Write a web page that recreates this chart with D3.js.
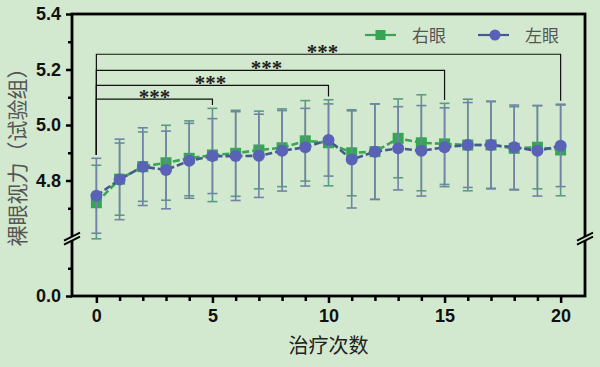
<!DOCTYPE html>
<html>
<head>
<meta charset="utf-8">
<script src="https://cdn.jsdelivr.net/npm/d3@7"></script>
<style>
  body { margin: 0; background: #d3e9cf; }
  svg { display: block; }
  .tick text { font-family: Arial, "Liberation Sans", sans-serif; font-weight: bold; font-size: 18px; fill: #111; }
</style>
</head>
<body>
<script>
// data
var sessions = [0, 1, 2, 3, 4, 5, 6, 7, 8, 9, 10, 11, 12, 13, 14, 15, 16, 17, 18, 19, 20];
var rightMean = [4.72, 4.805, 4.85, 4.864, 4.88, 4.892, 4.898, 4.91, 4.918, 4.943, 4.936, 4.90, 4.904, 4.952, 4.936, 4.932, 4.928, 4.928, 4.916, 4.92, 4.91];
var rightSD   = [0.135, 0.13, 0.125, 0.135, 0.135, 0.168, 0.155, 0.14, 0.14, 0.145, 0.155, 0.155, 0.172, 0.142, 0.173, 0.146, 0.165, 0.156, 0.15, 0.15, 0.165];
var leftMean  = [4.745, 4.804, 4.85, 4.838, 4.871, 4.888, 4.888, 4.889, 4.907, 4.92, 4.946, 4.876, 4.904, 4.916, 4.907, 4.92, 4.928, 4.928, 4.92, 4.907, 4.925];
var leftSD    = [0.135, 0.145, 0.14, 0.14, 0.135, 0.135, 0.16, 0.15, 0.145, 0.14, 0.13, 0.175, 0.172, 0.15, 0.163, 0.142, 0.153, 0.158, 0.152, 0.163, 0.147];
var seriesNames = ["右眼", "左眼"];

// significance brackets: compared sessions and bracket height
var compareTo = [5, 10, 15, 20];
var bracketLevel = [5.093, 5.143, 5.197, 5.255];
var sigLabel = ["***", "***", "***", "***"];

var yTicks = [0.0, 4.8, 5.0, 5.2, 5.4];
var yMinor = [0.1, 4.7, 4.9, 5.1, 5.3];
var xTicks = [0, 5, 10, 15, 20];

var width = 600, height = 367;
var margin = {top: 14, right: 15, bottom: 71, left: 72};

var svg = d3.select("body").append("svg")
    .attr("width", width)
    .attr("height", height);

var x = d3.scaleLinear()
    .domain([-1.05, 21.05])
    .range([margin.left, width - margin.right]);

// broken y axis: 0..0.2 below the break, 4.59..5.4 above
var y = d3.scaleLinear()
    .domain([0, 0.2, 4.59, 5.4])
    .range([296, 240.5, 238.8, margin.top]);

var x0 = margin.left, x1 = width - margin.right, yB = 296, yT = margin.top;

// axes
var yAxis = svg.append("g")
    .attr("transform", "translate(" + x0 + ",0)")
    .call(d3.axisLeft(y).tickValues(yTicks).tickFormat(d3.format(".1f")).tickSize(6).tickPadding(5));
yAxis.selectAll(".tick line").attr("stroke", "#000").attr("stroke-width", 2.5);

svg.append("g")
    .attr("transform", "translate(" + x0 + ",0)")
    .call(d3.axisLeft(y).tickValues(yMinor).tickFormat("").tickSize(4))
    .selectAll(".tick line").attr("stroke", "#000").attr("stroke-width", 2.5);

var xAxis = svg.append("g")
    .attr("transform", "translate(0," + yB + ")")
    .call(d3.axisBottom(x).tickValues(xTicks).tickFormat(d3.format("d")).tickSize(7).tickPadding(6));
xAxis.selectAll(".tick line").attr("stroke", "#000").attr("stroke-width", 2.5);

svg.append("g")
    .attr("transform", "translate(0," + yB + ")")
    .call(d3.axisBottom(x).tickValues(sessions.filter(function(d) { return d % 5 !== 0; })).tickFormat("").tickSize(5))
    .selectAll(".tick line").attr("stroke", "#000").attr("stroke-width", 2.5);

svg.selectAll(".domain").remove();

// frame
svg.append("rect")
    .attr("x", x0).attr("y", yT)
    .attr("width", x1 - x0).attr("height", yB - yT)
    .attr("fill", "none").attr("stroke", "#000").attr("stroke-width", 2.8);

// break marks on both vertical axes
var yBreak = (y(0.2) + y(4.59)) / 2;
[x0, x1].forEach(function(xa) {
  svg.append("polygon")
      .attr("points", [[xa - 8, yBreak + 5], [xa + 8, yBreak - 3], [xa + 8, yBreak - 7], [xa - 8, yBreak + 1]].join(" "))
      .attr("fill", "#d3e9cf");
  [-1, 3].forEach(function(o) {
    svg.append("line")
        .attr("x1", xa - 8).attr("y1", yBreak + o + 2)
        .attr("x2", xa + 8).attr("y2", yBreak + o - 6)
        .attr("stroke", "#000").attr("stroke-width", 2);
  });
});

// series
var series = [
  {name: seriesNames[0], mean: rightMean, sd: rightSD, color: "#35a653", line: "#3aa655", bar: "#5b9a84", shape: "square"},
  {name: seriesNames[1], mean: leftMean, sd: leftSD, color: "#5a62b8", line: "#46598f", bar: "#7183a6", shape: "circle"}
];

var line = d3.line()
    .x(function(d) { return x(d.s); })
    .y(function(d) { return y(d.m); });

series.forEach(function(se) {
  var pts = sessions.map(function(s, i) { return {s: s, m: se.mean[i], sd: se.sd[i]}; });
  var g = svg.append("g");

  // error bars
  var eb = g.selectAll(".eb").data(pts).enter().append("g");
  eb.append("line")
      .attr("x1", function(d) { return x(d.s); }).attr("x2", function(d) { return x(d.s); })
      .attr("y1", function(d) { return y(d.m - d.sd); }).attr("y2", function(d) { return y(d.m + d.sd); })
      .attr("stroke", se.bar).attr("stroke-width", 1.6);
  [1, -1].forEach(function(sign) {
    eb.append("line")
        .attr("x1", function(d) { return x(d.s) - 5; }).attr("x2", function(d) { return x(d.s) + 5; })
        .attr("y1", function(d) { return y(d.m + sign * d.sd); }).attr("y2", function(d) { return y(d.m + sign * d.sd); })
        .attr("stroke", se.bar).attr("stroke-width", 1.6);
  });

  g.append("path")
      .datum(pts)
      .attr("d", line)
      .attr("fill", "none")
      .attr("stroke", se.line)
      .attr("stroke-width", 2.6)
      .attr("stroke-dasharray", "7,3");

  if (se.shape === "square") {
    g.selectAll(".pt").data(pts).enter().append("rect")
        .attr("x", function(d) { return x(d.s) - 5.5; })
        .attr("y", function(d) { return y(d.m) - 5.5; })
        .attr("width", 11).attr("height", 11)
        .attr("fill", se.color);
  } else {
    g.selectAll(".pt").data(pts).enter().append("circle")
        .attr("cx", function(d) { return x(d.s); })
        .attr("cy", function(d) { return y(d.m); })
        .attr("r", 6)
        .attr("fill", se.color);
  }
});

// significance brackets
function topAt(s) {
  var i = sessions.indexOf(s);
  return Math.max(rightMean[i] + rightSD[i], leftMean[i] + leftSD[i]) + 0.012;
}
compareTo.forEach(function(s, k) {
  var yl = y(bracketLevel[k]);
  svg.append("path")
      .attr("d", "M" + x(0) + "," + y(topAt(0)) + "V" + yl + "H" + x(s) + "V" + y(topAt(s)))
      .attr("fill", "none").attr("stroke", "#111").attr("stroke-width", 1.2);
  svg.append("text")
      .attr("x", (x(0) + x(s)) / 2 - 2 * k)
      .attr("y", yl + 5)
      .attr("text-anchor", "middle")
      .style("font-family", "'Liberation Serif', serif")
      .style("font-weight", "bold")
      .style("font-size", "21px")
      .attr("fill", "#222")
      .text(sigLabel[k]);
});

// legend
var legX = [365, 478];
series.forEach(function(se, i) {
  var lg = svg.append("g").attr("transform", "translate(" + legX[i] + ",35)");
  lg.append("line").attr("x1", 0).attr("x2", 31).attr("stroke", se.line).attr("stroke-width", 2.2);
  if (se.shape === "square") {
    lg.append("rect").attr("x", 10.5).attr("y", -5).attr("width", 10).attr("height", 10).attr("fill", se.color);
  } else {
    lg.append("circle").attr("cx", 17).attr("r", 5.5).attr("fill", se.color);
  }
  lg.append("text")
      .attr("x", 47).attr("y", 6.5)
      .style("font-family", "'Noto Sans CJK SC', sans-serif")
      .style("font-size", "17px")
      .attr("fill", "#555")
      .text(se.name);
});

// axis titles
svg.append("text")
    .attr("x", (x0 + x1) / 2)
    .attr("y", 353)
    .attr("text-anchor", "middle")
    .style("font-family", "'Noto Sans CJK SC', sans-serif")
    .style("font-size", "20px")
    .attr("fill", "#222")
    .text("治疗次数");

svg.append("text")
    .attr("transform", "translate(25,152) rotate(-90)")
    .attr("text-anchor", "middle")
    .style("font-family", "'Noto Sans CJK SC', sans-serif")
    .style("font-size", "21px")
    .attr("fill", "#555")
    .text("裸眼视力（试验组）");
</script>
</body>
</html>
